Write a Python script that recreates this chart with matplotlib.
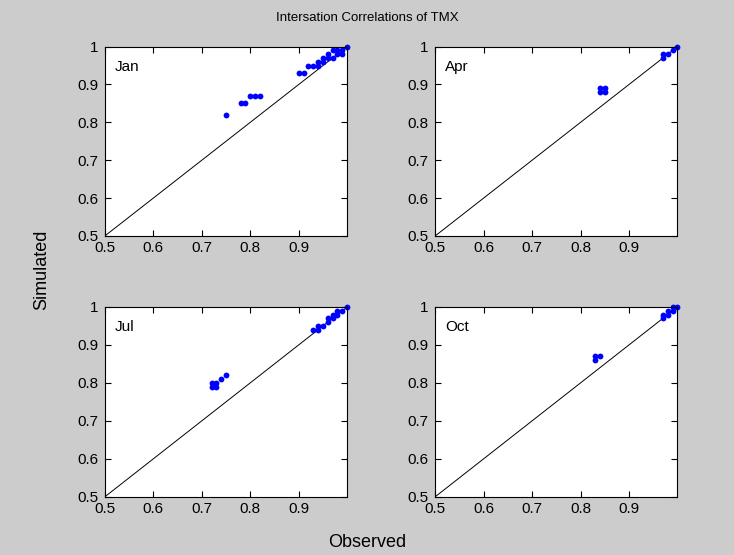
import matplotlib
matplotlib.use('Agg')
from matplotlib import pyplot as plt
import numpy as np

plt.rcParams['font.family'] = ['Liberation Sans', 'DejaVu Sans']

# observed / simulated intersation correlations
jan_obs = [0.75, 0.78, 0.79, 0.80, 0.81, 0.82, 0.90, 0.91, 0.92, 0.93, 0.94, 0.94,
           0.95, 0.95, 0.96, 0.96, 0.97, 0.97, 0.98, 0.98, 0.99, 0.99, 1.00]
jan_sim = [0.82, 0.85, 0.85, 0.87, 0.87, 0.87, 0.93, 0.93, 0.95, 0.95, 0.95, 0.96,
           0.96, 0.97, 0.97, 0.98, 0.97, 0.99, 0.98, 0.99, 0.99, 0.98, 1.00]

apr_obs = [0.84, 0.84, 0.85, 0.85, 0.97, 0.97, 0.98, 0.99, 1.00]
apr_sim = [0.88, 0.89, 0.88, 0.89, 0.97, 0.98, 0.98, 0.99, 1.00]

jul_obs = [0.72, 0.72, 0.73, 0.73, 0.74, 0.75, 0.93, 0.94, 0.94, 0.95, 0.96, 0.96,
           0.97, 0.97, 0.98, 0.98, 0.99, 1.00]
jul_sim = [0.80, 0.79, 0.79, 0.80, 0.81, 0.82, 0.94, 0.94, 0.95, 0.95, 0.96, 0.97,
           0.97, 0.98, 0.98, 0.99, 0.99, 1.00]

oct_obs = [0.83, 0.83, 0.84, 0.97, 0.97, 0.98, 0.98, 0.99, 0.99, 1.00]
oct_sim = [0.86, 0.87, 0.87, 0.97, 0.98, 0.98, 0.99, 0.99, 1.00, 1.00]

months = ['Jan', 'Apr', 'Jul', 'Oct']
obs = [jan_obs, apr_obs, jul_obs, oct_obs]
sim = [jan_sim, apr_sim, jul_sim, oct_sim]

xticks = [0.5, 0.6, 0.7, 0.8, 0.9]
yticks = [0.5, 0.6, 0.7, 0.8, 0.9, 1.0]
ytick_labels = ['0.5', '0.6', '0.7', '0.8', '0.9', '1']

bg = '#cccccc'
fig = plt.figure(figsize=(7.34, 5.55), dpi=100, facecolor=bg)

# axes boxes in figure fraction [left, bottom, width, height]
boxes = [[0.143, 0.575, 0.330, 0.341],
         [0.593, 0.575, 0.330, 0.341],
         [0.143, 0.105, 0.330, 0.342],
         [0.593, 0.105, 0.330, 0.342]]

for i in range(4):
    ax = fig.add_axes(boxes[i])
    ax.plot([0.5, 1.0], [0.5, 1.0], color='black', linewidth=0.7)
    ax.plot(obs[i], sim[i], 'o', color='#0000ff', markersize=4.2,
            markeredgewidth=0, clip_on=False)
    ax.set_xlim(0.5, 1.0)
    ax.set_ylim(0.5, 1.0)
    ax.set_xticks(xticks)
    ax.set_xticklabels([str(t) for t in xticks])
    ax.set_yticks(yticks)
    ax.set_yticklabels(ytick_labels)
    ax.tick_params(direction='in', top=True, right=True, length=4,
                   labelsize=11)
    ax.tick_params(axis='y', pad=5)
    ax.tick_params(axis='x', pad=4)
    for s in ax.spines.values():
        s.set_linewidth(0.8)
    ax.text(0.04, 0.93, months[i], transform=ax.transAxes, fontsize=11,
            va='top', ha='left')

fig.text(0.5, 0.968, 'Intersation Correlations of TMX', ha='center',
         va='center', fontsize=9.5)
fig.text(0.057, 0.513, 'Simulated', rotation=90, ha='center', va='center',
         fontsize=13)
fig.text(0.5, 0.022, 'Observed', ha='center', va='center', fontsize=13)

fig.savefig('out.png', dpi=100, facecolor=bg)
